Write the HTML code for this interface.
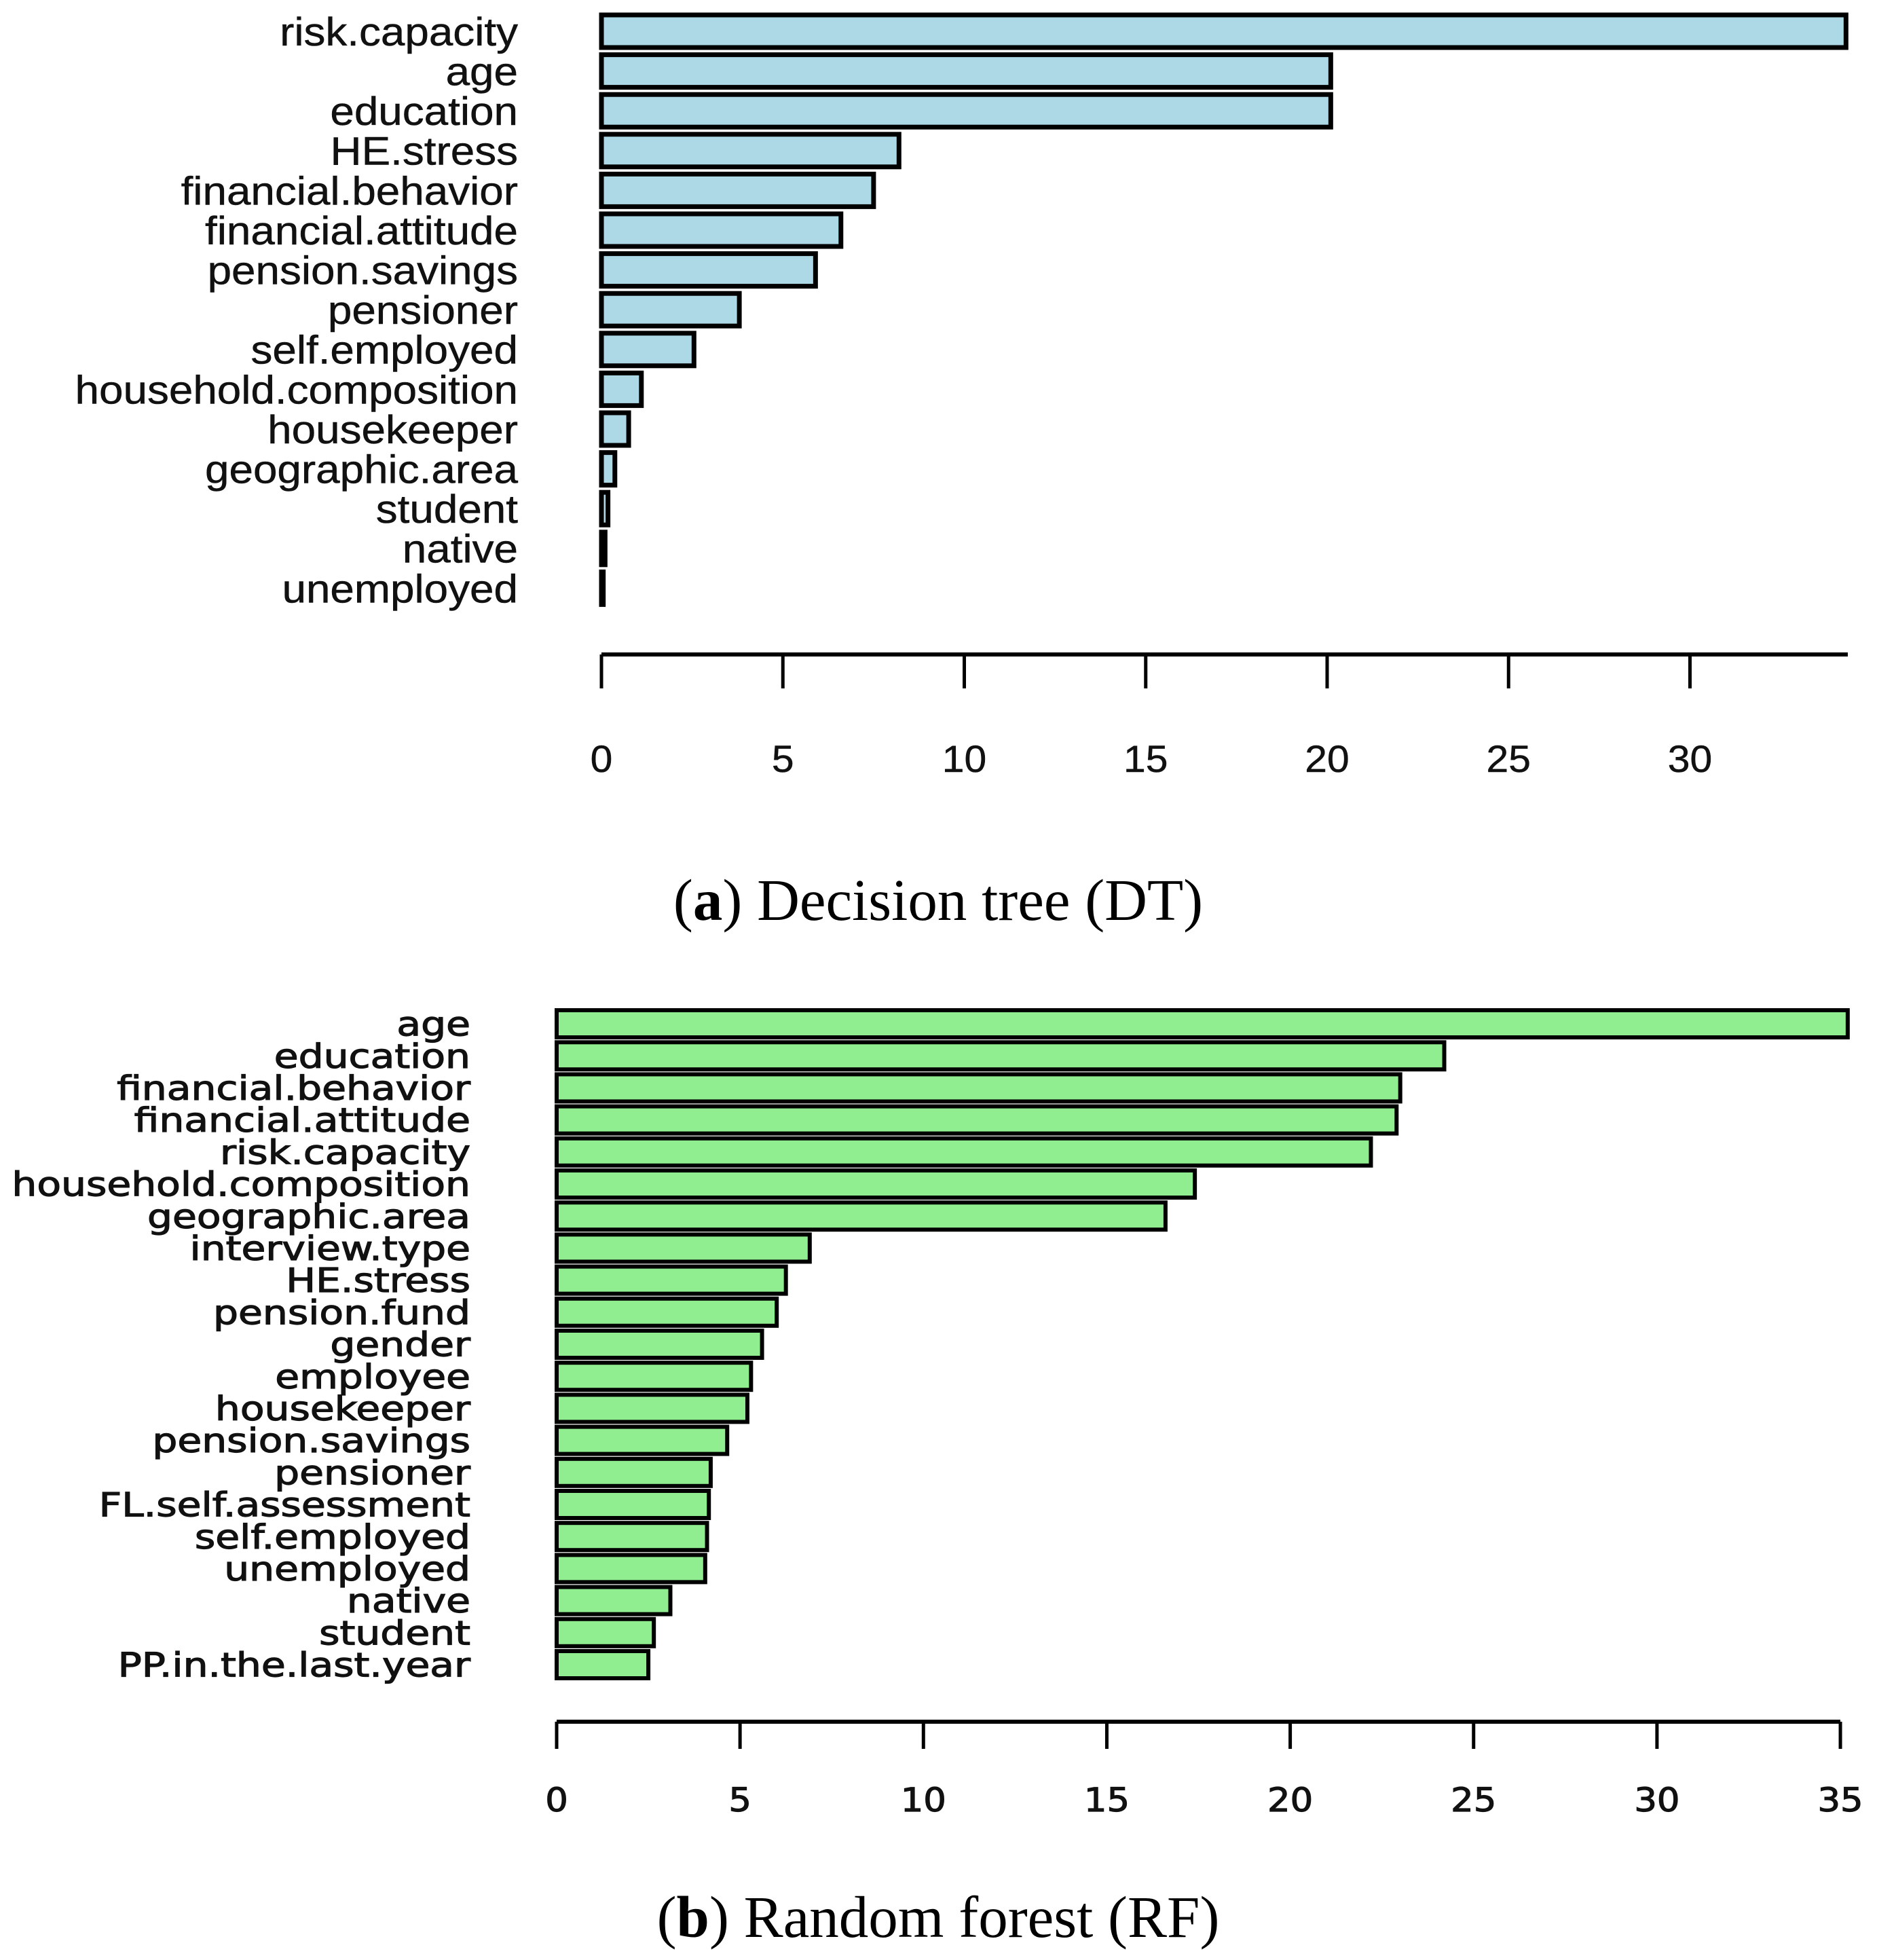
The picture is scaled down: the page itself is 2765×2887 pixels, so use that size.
<!DOCTYPE html>
<html><head><meta charset="utf-8"><style>
html,body{margin:0;padding:0;background:#fff;}
svg{display:block;}
</style></head><body>
<svg id="chart" width="2765" height="2887" viewBox="0 0 2765 2887" xmlns="http://www.w3.org/2000/svg">
<g id="dt"></g>
<g id="rf"></g>
<text x="1382" y="1355" text-anchor="middle" font-family="Liberation Serif, serif" font-size="87">(<tspan font-weight="bold">a</tspan>) Decision tree (DT)</text>
<text x="1382" y="2853" text-anchor="middle" font-family="Liberation Serif, serif" font-size="87">(<tspan font-weight="bold">b</tspan>) Random forest (RF)</text>
</svg>
<script>
const dtCategories = ["risk.capacity","age","education","HE.stress","financial.behavior","financial.attitude","pension.savings","pensioner","self.employed","household.composition","housekeeper","geographic.area","student","native","unemployed"];
const dtValues = [34.3,20.1,20.1,8.2,7.5,6.6,5.9,3.8,2.55,1.1,0.75,0.37,0.18,0.1,0.05];
const dtTicks = [0,5,10,15,20,25,30];
const rfCategories = ["age","education","financial.behavior","financial.attitude","risk.capacity","household.composition","geographic.area","interview.type","HE.stress","pension.fund","gender","employee","housekeeper","pension.savings","pensioner","FL.self.assessment","self.employed","unemployed","native","student","PP.in.the.last.year"];
const rfValues = [35.2,24.2,23.0,22.9,22.2,17.4,16.6,6.9,6.25,6.0,5.6,5.3,5.2,4.65,4.2,4.15,4.1,4.05,3.1,2.65,2.5];
const rfTicks = [0,5,10,15,20,25,30,35];

const NS = "http://www.w3.org/2000/svg";
function mk(tag, attrs, parent){const e=document.createElementNS(NS,tag);for(const k in attrs)e.setAttribute(k,attrs[k]);parent.appendChild(e);return e;}

function drawPanel(g, cats, vals, ticks, o){
  const xs = v => o.x0 + v*o.unit;
  cats.forEach((c,i)=>{
    const cy = o.y0 + i*o.pitch;
    const r = mk("rect",{x:xs(0),y:cy-o.bh/2,width:Math.max(xs(vals[i])-xs(0),1),height:o.bh,fill:o.fill,stroke:"#000","stroke-width":o.sw},g);
    
    
    const t = mk("text",{transform:`translate(${o.lx},${cy+o.fs*0.36}) scale(${o.sx},1)`,"text-anchor":"end","font-family":o.font,"font-size":o.fs,fill:"#111",stroke:"#111","stroke-width":o.ts},g);
    t.textContent = c;
    
    
  });
  const ax = mk("line",{x1:xs(ticks[0]),x2:o.axEnd,y1:o.ay,y2:o.ay,stroke:"#000","stroke-width":6},g);
  
  
  ticks.forEach(tv=>{
    const tl = mk("line",{x1:xs(tv),x2:xs(tv),y1:o.ay,y2:o.ay+o.tl,stroke:"#000","stroke-width":5},g);
    
    
    const tt = mk("text",{transform:`translate(${xs(tv)},${o.ty}) scale(${o.tsx},1)`,"text-anchor":"middle","font-family":o.font,"font-size":o.tfs,fill:"#111",stroke:"#111","stroke-width":o.ts},g);
    tt.textContent = tv;
    
    
  });
}
drawPanel(document.getElementById('dt'), dtCategories, dtValues, dtTicks,
  {x0:886,unit:53.45,y0:46,pitch:58.6,bh:48,fill:"#add8e6",sw:7,lx:763,fs:58,sx:1.1,tsx:1.05,ts:0.5,font:"Liberation Sans, sans-serif",ay:964,tl:50,ty:1137,tfs:56,axEnd:2722});
drawPanel(document.getElementById('rf'), rfCategories, rfValues, rfTicks,
  {x0:820,unit:54.03,y0:1508,pitch:47.2,bh:40,fill:"#90ee90",sw:6,lx:693,fs:49,sx:1.19,tsx:1.1,ts:1.2,font:"DejaVu Sans, sans-serif",ay:2536,tl:40,ty:2668,tfs:48,axEnd:2711});
</script>
</body></html>
